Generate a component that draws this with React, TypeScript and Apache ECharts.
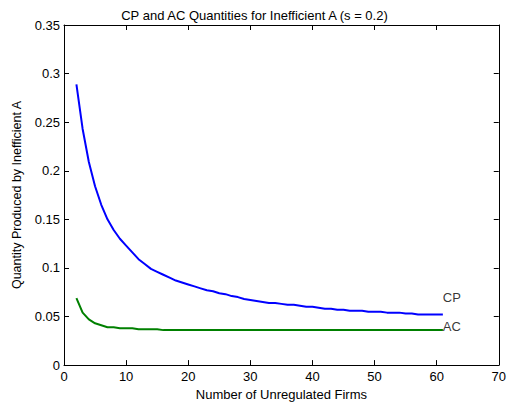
import React, { useEffect, useRef } from "react";
import * as echarts from "echarts";

const firms = Array.from({ length: 60 }, (_, i) => i + 2);
const cpValues = [
  0.289, 0.243, 0.209, 0.184, 0.165, 0.150, 0.139, 0.130, 0.123, 0.116,
  0.109, 0.104, 0.099, 0.096, 0.093, 0.090, 0.087, 0.085, 0.083, 0.081,
  0.079, 0.077, 0.076, 0.074, 0.073, 0.071, 0.070, 0.068, 0.067, 0.066,
  0.065, 0.064, 0.064, 0.063, 0.062, 0.062, 0.061, 0.060, 0.060, 0.059,
  0.058, 0.058, 0.057, 0.057, 0.056, 0.056, 0.056, 0.055, 0.055, 0.055,
  0.054, 0.054, 0.054, 0.053, 0.053, 0.052, 0.052, 0.052, 0.052, 0.052,
];
const acValues = [
  0.069, 0.054, 0.047, 0.043, 0.041, 0.039, 0.039, 0.038, 0.038, 0.038,
  0.037, 0.037, 0.037, 0.037, 0.036, 0.036, 0.036, 0.036, 0.036, 0.036,
  0.036, 0.036, 0.036, 0.036, 0.036, 0.036, 0.036, 0.036, 0.036, 0.036,
  0.036, 0.036, 0.036, 0.036, 0.036, 0.036, 0.036, 0.036, 0.036, 0.036,
  0.036, 0.036, 0.036, 0.036, 0.036, 0.036, 0.036, 0.036, 0.036, 0.036,
  0.036, 0.036, 0.036, 0.036, 0.036, 0.036, 0.036, 0.036, 0.036, 0.036,
];
const textLabels = [
  { text: "CP", x: 61, y: 0.07 },
  { text: "AC", x: 61, y: 0.04 },
];
const xTicks = [0, 10, 20, 30, 40, 50, 60, 70];
const yTicks = [0, 0.05, 0.1, 0.15, 0.2, 0.25, 0.3, 0.35];

const FONT = "Liberation Sans, Arial, sans-serif";
const FS = 13;

export default function App() {
  const ref = useRef<HTMLDivElement>(null);
  useEffect(() => {
    if (!ref.current) return;
    const chart = echarts.init(ref.current, null, { renderer: "svg" });
    const axisLine = { show: true, onZero: false, lineStyle: { color: "#000", width: 1 } };
    const tick = { show: true, inside: true, length: 5, lineStyle: { color: "#000" } };
    chart.setOption({
      animation: false,
      backgroundColor: "#fff",
      textStyle: { fontFamily: FONT },
      title: {
        text: "CP and AC Quantities for Inefficient A (s = 0.2)",
        left: "center",
        top: 4,
        textStyle: { fontFamily: FONT, fontSize: FS, fontWeight: "normal", color: "#000" },
      },
      grid: { left: 64, right: 9, top: 25, bottom: 38 },
      xAxis: [
        {
          type: "value",
          min: xTicks[0],
          max: xTicks[xTicks.length - 1],
          interval: 10,
          position: "bottom",
          axisLine,
          axisTick: tick,
          splitLine: { show: false },
          axisLabel: { color: "#000", fontSize: FS, fontFamily: FONT, margin: 5 },
          name: "Number of Unregulated Firms",
          nameLocation: "middle",
          nameGap: 20,
          nameTextStyle: { color: "#000", fontSize: FS, fontFamily: FONT },
        },
        {
          type: "value",
          min: xTicks[0],
          max: xTicks[xTicks.length - 1],
          interval: 10,
          position: "top",
          axisLine,
          axisTick: tick,
          splitLine: { show: false },
          axisLabel: { show: false },
        },
      ],
      yAxis: [
        {
          type: "value",
          min: yTicks[0],
          max: yTicks[yTicks.length - 1],
          interval: 0.05,
          position: "left",
          axisLine,
          axisTick: tick,
          splitLine: { show: false },
          axisLabel: {
            color: "#000",
            fontSize: FS,
            fontFamily: FONT,
            margin: 4,
            formatter: (v: number) => String(parseFloat(v.toFixed(2))),
          },
          name: "Quantity Produced by Inefficient A",
          nameLocation: "middle",
          nameGap: 34,
          nameRotate: 90,
          nameTextStyle: { color: "#000", fontSize: 12.5, fontFamily: FONT },
        },
        {
          type: "value",
          min: yTicks[0],
          max: yTicks[yTicks.length - 1],
          interval: 0.05,
          position: "right",
          axisLine,
          axisTick: tick,
          splitLine: { show: false },
          axisLabel: { show: false },
        },
      ],
      series: [
        {
          name: "CP",
          type: "line",
          data: firms.map((n, i) => [n, cpValues[i]]),
          showSymbol: false,
          lineStyle: { color: "#0000ff", width: 2 },
          z: 3,
        },
        {
          name: "AC",
          type: "line",
          data: firms.map((n, i) => [n, acValues[i]]),
          showSymbol: false,
          lineStyle: { color: "#008000", width: 2 },
          z: 2,
        },
        {
          name: "labels",
          type: "scatter",
          symbolSize: 0,
          data: textLabels.map((l) => ({ value: [l.x, l.y], name: l.text })),
          label: {
            show: true,
            position: "right",
            distance: 0,
            formatter: (p: any) => p.name,
            color: "#000",
            fontSize: FS,
            fontFamily: FONT,
          },
          silent: true,
        },
      ],
    });
    return () => chart.dispose();
  }, []);
  return <div ref={ref} style={{ width: 509, height: 406, position: "absolute", left: 0, top: 0 }} />;
}
